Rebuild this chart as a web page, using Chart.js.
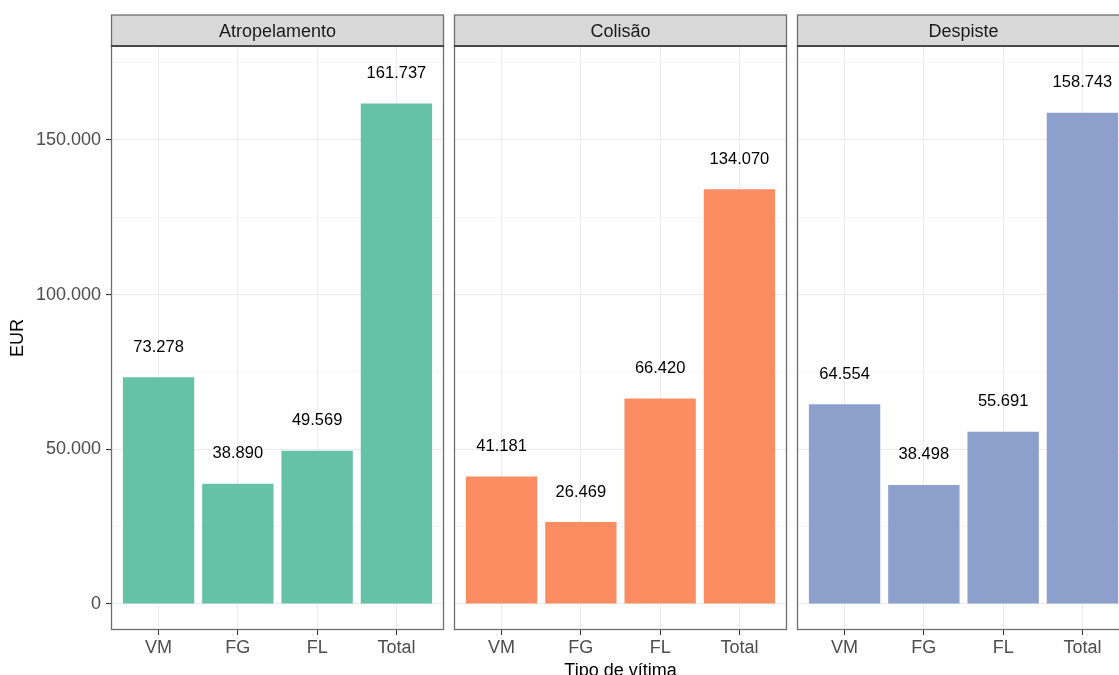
<!DOCTYPE html>
<html>
<head>
<meta charset="utf-8">
<script src="https://cdn.jsdelivr.net/npm/chart.js@4"></script>
<style>
html,body{margin:0;padding:0;background:#fff;overflow:hidden;width:1119px;height:675px;}
.wrap{position:absolute;top:0;height:675px;}
</style>
</head>
<body>
<div class="wrap" id="w0" style="left:0;width:445px"><canvas id="c0"></canvas></div>
<div class="wrap" id="w1" style="left:453px;width:335px"><canvas id="c1"></canvas></div>
<div class="wrap" id="w2" style="left:796px;width:335px"><canvas id="c2"></canvas></div>
<script>
// data
const categories = ['VM', 'FG', 'FL', 'Total'];
const panels = ['Atropelamento', 'Colisão', 'Despiste'];
const atropelamento = [73278, 38890, 49569, 161737];
const colisao = [41181, 26469, 66420, 134070];
const despiste = [64554, 38498, 55691, 158743];
const yTicks = [0, 50000, 100000, 150000];
const yMinorTicks = [25000, 75000, 125000, 175000];
const panelColors = ['#66C2A5', '#FC8D62', '#8DA0CB'];
const series = [atropelamento, colisao, despiste];

const FONT = "'Liberation Sans', Arial, sans-serif";
const fmt = v => String(Math.round(v)).replace(/\B(?=(\d{3})+(?!\d))/g, '.');
const isMajor = c => c.tick && yTicks.includes(c.tick.value);

const panelPlugin = {
    id: 'panelDeco',
    afterDraw(chart, args, opts) {
        const ctx = chart.ctx;
        const a = chart.chartArea;
        ctx.save();
        // value labels
        const meta = chart.getDatasetMeta(0);
        ctx.font = '16.5px ' + FONT;
        ctx.fillStyle = '#000';
        ctx.textAlign = 'center';
        ctx.textBaseline = 'middle';
        meta.data.forEach((bar, i) => {
            ctx.fillText(fmt(chart.data.datasets[0].data[i].y), bar.x, bar.y - 30);
        });
        // panel border
        ctx.strokeStyle = '#6e6e6e';
        ctx.lineWidth = 1.3;
        ctx.strokeRect(a.left + 0.5, a.top, a.right - a.left - 1, a.bottom - a.top - 0.5);
        // strip
        const sh = 31;
        ctx.fillStyle = '#d9d9d9';
        ctx.fillRect(a.left + 0.5, a.top - sh, a.right - a.left - 1, sh);
        ctx.strokeRect(a.left + 0.5, a.top - sh, a.right - a.left - 1, sh);
        ctx.strokeStyle = '#333';
        ctx.lineWidth = 1.5;
        ctx.beginPath();
        ctx.moveTo(a.left, a.top);
        ctx.lineTo(a.right, a.top);
        ctx.stroke();
        ctx.fillStyle = '#1a1a1a';
        ctx.font = '18px ' + FONT;
        ctx.fillText(opts.title, (a.left + a.right) / 2, a.top - sh / 2 + 1.5);
        // x axis title (centre panel)
        if (opts.xTitle) {
            ctx.fillStyle = '#000';
            ctx.fillText(opts.xTitle, (a.left + a.right) / 2, 671);
        }
        // y axis title
        if (opts.yTitle) {
            ctx.fillStyle = '#000';
            ctx.translate(18, (a.top + a.bottom) / 2);
            ctx.rotate(-Math.PI / 2);
            ctx.fillText(opts.yTitle, 0, 0);
        }
        ctx.restore();
    }
};

function makeChart(idx) {
    const first = idx === 0;
    const yw = first ? 111 : 1;
    new Chart(document.getElementById('c' + idx), {
        type: 'bar',
        data: {
            datasets: [{
                data: series[idx].map((v, i) => ({x: i, y: v})),
                backgroundColor: panelColors[idx],
                borderWidth: 0,
                barPercentage: 0.9,
                categoryPercentage: 1.0
            }]
        },
        options: {
            responsive: true,
            maintainAspectRatio: false,
            animation: false,
            layout: {padding: {top: 46, right: 1, left: 0, bottom: 0}},
            plugins: {
                legend: {display: false},
                tooltip: {enabled: false},
                panelDeco: {
                    title: panels[idx],
                    yTitle: first ? 'EUR' : null,
                    xTitle: idx === 1 ? 'Tipo de vítima' : null
                }
            },
            scales: {
                x: {
                    type: 'linear',
                    min: -0.6,
                    max: 3.6,
                    offset: false,
                    afterFit: s => { s.height = 45; },
                    afterBuildTicks: s => { s.ticks = categories.map((c, i) => ({value: i})); },
                    border: {display: false},
                    grid: {color: '#ebebeb', lineWidth: 1, tickLength: 5, tickColor: '#333', offset: false},
                    ticks: {
                        autoSkip: false,
                        maxRotation: 0,
                        padding: 2,
                        color: '#4d4d4d',
                        font: {size: 18, family: FONT},
                        callback: v => categories[v] !== undefined ? categories[v] : ''
                    }
                },
                y: {
                    min: -8400,
                    max: 180350,
                    afterFit: s => { s.width = yw; },
                    afterBuildTicks: s => {
                        s.ticks = yTicks.concat(yMinorTicks).sort((p, q) => p - q).map(v => ({value: v}));
                    },
                    border: {display: false},
                    grid: {
                        color: c => isMajor(c) ? '#ebebeb' : '#f4f4f4',
                        lineWidth: c => isMajor(c) ? 1.1 : 0.8,
                        tickLength: first ? 5 : 0,
                        tickColor: c => isMajor(c) && first ? '#333' : 'rgba(0,0,0,0)'
                    },
                    ticks: {
                        display: first,
                        autoSkip: false,
                        padding: 5,
                        color: '#4d4d4d',
                        font: {size: 18, family: FONT},
                        callback: v => yTicks.includes(v) ? fmt(v) : ''
                    }
                }
            }
        },
        plugins: [panelPlugin]
    });
}

[0, 1, 2].forEach(makeChart);
</script>
</body>
</html>
